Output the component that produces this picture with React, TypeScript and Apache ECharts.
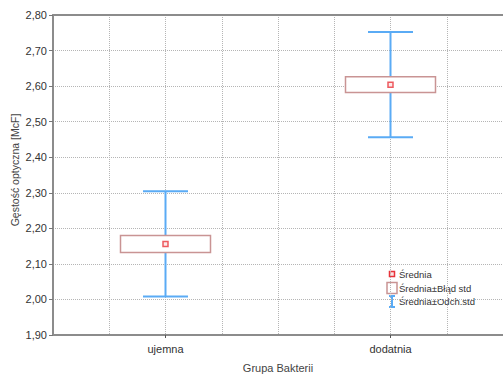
import React, { useEffect, useRef } from "react";
import * as echarts from "echarts";

const categories = ["ujemna", "dodatnia"];
const means = [2.156, 2.604];
const stdErrors = [0.024, 0.022];
const stdDevs = [0.148, 0.148];
const legendLabels = ["Średnia", "Średnia±Błąd std", "Średnia±Odch.std"];
const yTitle = "Gęstość optyczna [McF]";
const xTitle = "Grupa Bakterii";

const FONT = "Liberation Sans, Arial, sans-serif";
const BOX_COLOR = "#c99494";
const WHISKER_COLOR = "#5aabf5";
const MEAN_COLOR = "#e8333a";

export default function App() {
  const ref = useRef<HTMLDivElement>(null);
  useEffect(() => {
    if (!ref.current) return;
    const chart = echarts.init(ref.current, null, { renderer: "svg" });
    const boxData = categories.map((c, i) => [
      i,
      means[i],
      means[i] - stdErrors[i],
      means[i] + stdErrors[i],
      means[i] - stdDevs[i],
      means[i] + stdDevs[i],
    ]);
    const lx = 392;
    const ly = [274, 288, 301];
    chart.setOption({
      animation: false,
      textStyle: { fontFamily: FONT },
      grid: { left: 53, top: 15, right: -2, bottom: 36 },
      xAxis: [
        {
          type: "category",
          data: categories,
          boundaryGap: true,
          position: "bottom",
          axisLine: { lineStyle: { color: "#8c8c8c", width: 2 } },
          axisTick: { show: true, alignWithLabel: true, length: 3, lineStyle: { color: "#555" } },
          axisLabel: { color: "#333", fontSize: 11, margin: 8, fontFamily: FONT },
          splitLine: { show: false },
          name: xTitle,
          nameLocation: "middle",
          nameGap: 27,
          nameTextStyle: { color: "#444", fontSize: 11, fontFamily: FONT },
        },
        {
          type: "value",
          min: 0,
          max: 8,
          interval: 1,
          position: "top",
          axisLine: { show: true, lineStyle: { color: "#8c8c8c", width: 2 } },
          axisTick: { show: false },
          axisLabel: { show: false },
          splitLine: { show: true, lineStyle: { color: "#b5b5b5", type: [1, 1], width: 1 } },
        },
      ],
      yAxis: {
        type: "value",
        min: 1.9,
        max: 2.8,
        interval: 0.1,
        axisLine: { show: true, lineStyle: { color: "#8c8c8c", width: 2 } },
        axisTick: { show: true, length: 4, lineStyle: { color: "#777" } },
        axisLabel: {
          color: "#333",
          fontSize: 11,
          margin: 6,
          fontFamily: FONT,
          formatter: (v: number) => v.toFixed(2).replace(".", ","),
        },
        splitLine: { show: true, lineStyle: { color: "#b5b5b5", type: [1, 1], width: 1 } },
      },
      series: [
        {
          type: "custom",
          xAxisIndex: 0,
          data: boxData,
          renderItem: (params: any, api: any) => {
            const i = api.value(0);
            const band = api.size([1, 0])[0];
            const cx = api.coord([i, api.value(1)])[0];
            const yLoSe = api.coord([i, api.value(2)])[1];
            const yHiSe = api.coord([i, api.value(3)])[1];
            const yLoSd = api.coord([i, api.value(4)])[1];
            const yHiSd = api.coord([i, api.value(5)])[1];
            const bw = band * 0.4;
            const cw = band * 0.2;
            const wStyle = { stroke: WHISKER_COLOR, lineWidth: 2 };
            return {
              type: "group",
              children: [
                { type: "line", shape: { x1: cx, y1: yHiSd, x2: cx, y2: yLoSd }, style: wStyle },
                { type: "line", shape: { x1: cx - cw / 2, y1: yHiSd, x2: cx + cw / 2, y2: yHiSd }, style: wStyle },
                { type: "line", shape: { x1: cx - cw / 2, y1: yLoSd, x2: cx + cw / 2, y2: yLoSd }, style: wStyle },
                {
                  type: "rect",
                  shape: { x: cx - bw / 2, y: yHiSe, width: bw, height: yLoSe - yHiSe },
                  style: { fill: "#fff", stroke: BOX_COLOR, lineWidth: 1.5 },
                },
              ],
            };
          },
          z: 2,
        },
        {
          type: "scatter",
          xAxisIndex: 0,
          data: categories.map((c, i) => [i, means[i]]),
          symbol: "rect",
          symbolSize: 5,
          itemStyle: { color: "#fbe3e3", borderColor: MEAN_COLOR, borderWidth: 1.5 },
          z: 3,
        },
      ],
      graphic: [
        {
          type: "text",
          x: 15,
          y: 170,
          rotation: Math.PI / 2,
          style: {
            text: yTitle,
            fill: "#444",
            font: `10.5px ${FONT}`,
            align: "center",
            verticalAlign: "middle",
          },
        },
        {
          type: "rect",
          shape: { x: lx - 2.5, y: ly[0] - 2.5, width: 5, height: 5 },
          style: { fill: "#fbe3e3", stroke: MEAN_COLOR, lineWidth: 1.5 },
        },
        {
          type: "rect",
          shape: { x: lx - 5, y: ly[1] - 5.5, width: 10, height: 11 },
          style: { fill: "#fff", stroke: BOX_COLOR, lineWidth: 1.5 },
        },
        { type: "line", shape: { x1: lx, y1: ly[2] - 5, x2: lx, y2: ly[2] + 6 }, style: { stroke: WHISKER_COLOR, lineWidth: 2 } },
        { type: "line", shape: { x1: lx - 3, y1: ly[2] - 5, x2: lx + 3, y2: ly[2] - 5 }, style: { stroke: WHISKER_COLOR, lineWidth: 2 } },
        { type: "line", shape: { x1: lx - 3, y1: ly[2] + 6, x2: lx + 3, y2: ly[2] + 6 }, style: { stroke: WHISKER_COLOR, lineWidth: 2 } },
        ...legendLabels.map((t, k) => ({
          type: "text",
          x: 399,
          y: ly[k],
          style: { text: t, fill: "#333", font: `9.5px ${FONT}`, verticalAlign: "middle", align: "left" },
        })),
      ],
    });
    return () => chart.dispose();
  }, []);
  return (
    <div
      ref={ref}
      style={{ position: "absolute", left: 0, top: 0, width: 503, height: 378, background: "#fff" }}
    />
  );
}
